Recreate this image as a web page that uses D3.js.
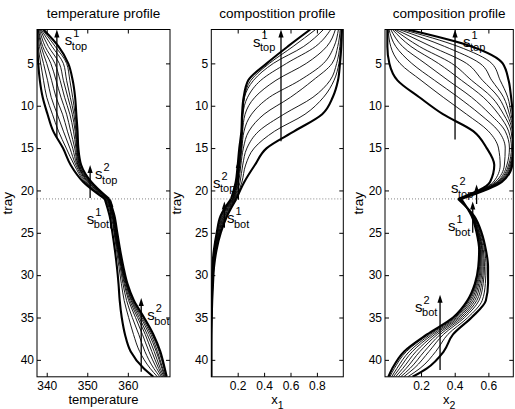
<!DOCTYPE html>
<meta charset="utf-8">
<style>
    body { margin: 0; background: #fff; }
    text { font-family: "Liberation Sans", Arial, Helvetica, sans-serif; fill: #000; }
</style>
<div id="my_dataviz"></div>
<script src="https://d3js.org/d3.v7.min.js"></script>
<script>

    var trays = [1, 3, 5, 7, 9, 11, 13, 15, 17, 19, 21, 23, 25, 27, 29, 31, 33, 35, 37, 39, 41, 42];
    var feedTray = 21;

    // temperature profiles, first and last are drawn thick
    var tempProfiles = [
        [337.6, 337.7, 337.9, 338.3, 339.0, 340.2, 341.6, 344.0, 345.9, 349.0, 354.3, 355.5, 356.2, 356.8, 357.3, 357.7, 358.0, 358.5, 359.3, 360.7, 363.9, 366.3],
        [337.7, 337.9, 338.5, 339.2, 340.0, 341.4, 342.9, 344.8, 346.8, 349.4, 354.5, 355.9, 356.6, 357.2, 357.8, 358.4, 359.1, 360.2, 361.4, 362.9, 365.5, 367.3],
        [337.8, 338.2, 339.2, 340.2, 341.1, 342.6, 344.1, 345.7, 347.2, 349.7, 354.6, 356.1, 356.7, 357.4, 358.1, 358.8, 359.7, 361.1, 362.7, 364.2, 366.4, 367.9],
        [337.9, 338.6, 340.0, 341.2, 342.3, 343.9, 345.1, 346.4, 347.5, 350.0, 354.8, 356.2, 356.8, 357.5, 358.3, 359.1, 360.2, 361.9, 363.6, 365.2, 367.1, 368.3],
        [338.0, 339.0, 341.0, 342.3, 343.5, 344.9, 345.9, 346.9, 347.7, 350.2, 354.9, 356.3, 356.9, 357.6, 358.4, 359.3, 360.5, 362.4, 364.3, 365.9, 367.6, 368.6],
        [338.2, 339.6, 342.0, 343.3, 344.4, 345.7, 346.6, 347.2, 347.8, 350.4, 355.0, 356.4, 357.0, 357.7, 358.5, 359.5, 360.8, 362.8, 364.8, 366.5, 368.0, 368.9],
        [338.4, 340.4, 343.1, 344.1, 345.2, 346.3, 347.0, 347.4, 348.0, 350.6, 355.1, 356.5, 357.1, 357.8, 358.6, 359.6, 361.0, 363.2, 365.3, 367.0, 368.4, 369.1],
        [338.6, 341.3, 344.1, 344.9, 345.8, 346.7, 347.2, 347.5, 348.1, 350.7, 355.2, 356.5, 357.1, 357.8, 358.7, 359.7, 361.2, 363.5, 365.7, 367.3, 368.6, 369.3],
        [338.9, 342.1, 344.9, 345.7, 346.4, 347.0, 347.4, 347.6, 348.3, 350.9, 355.3, 356.6, 357.2, 357.9, 358.7, 359.8, 361.4, 363.8, 366.0, 367.7, 368.9, 369.5],
        [339.2, 342.9, 345.3, 346.4, 347.0, 347.3, 347.6, 347.8, 348.5, 351.0, 355.4, 356.7, 357.4, 358.1, 358.9, 359.9, 361.5, 364.0, 366.3, 368.0, 369.1, 369.6]
    ];

    // x1 profiles
    var x1Profiles = [
        [0.75, 0.58, 0.42, 0.28, 0.245, 0.233, 0.228, 0.212, 0.2, 0.185, 0.15, 0.07, 0.041, 0.02, 0.008, 0.004, 0.002, 0.001, 0, 0, 0, 0],
        [0.79, 0.62, 0.44, 0.30, 0.25, 0.237, 0.231, 0.22, 0.205, 0.19, 0.16, 0.075, 0.044, 0.022, 0.009, 0.005, 0.0025, 0.001, 0, 0, 0, 0],
        [0.85, 0.70, 0.47, 0.32, 0.252, 0.238, 0.232, 0.223, 0.208, 0.192, 0.163, 0.081, 0.048, 0.024, 0.011, 0.006, 0.003, 0.0015, 0, 0, 0, 0],
        [0.905, 0.79, 0.57, 0.375, 0.275, 0.24, 0.234, 0.226, 0.211, 0.195, 0.166, 0.086, 0.051, 0.027, 0.012, 0.007, 0.0035, 0.0015, 0, 0, 0, 0],
        [0.94, 0.875, 0.72, 0.49, 0.33, 0.256, 0.237, 0.228, 0.214, 0.198, 0.17, 0.092, 0.055, 0.029, 0.014, 0.008, 0.004, 0.002, 0, 0, 0, 0],
        [0.963, 0.93, 0.85, 0.67, 0.44, 0.305, 0.248, 0.232, 0.218, 0.202, 0.174, 0.097, 0.058, 0.031, 0.015, 0.009, 0.0045, 0.002, 0, 0, 0, 0],
        [0.977, 0.958, 0.915, 0.77, 0.6, 0.40, 0.285, 0.243, 0.224, 0.208, 0.178, 0.103, 0.062, 0.033, 0.017, 0.01, 0.005, 0.002, 0.001, 0, 0, 0],
        [0.984, 0.974, 0.95, 0.9, 0.77, 0.55, 0.36, 0.27, 0.238, 0.218, 0.182, 0.108, 0.065, 0.036, 0.018, 0.011, 0.0055, 0.0025, 0.001, 0, 0, 0],
        [0.988, 0.981, 0.967, 0.93, 0.85, 0.71, 0.48, 0.325, 0.26, 0.232, 0.186, 0.114, 0.069, 0.038, 0.02, 0.012, 0.006, 0.003, 0.001, 0, 0, 0],
        [0.99, 0.985, 0.975, 0.96, 0.92, 0.84, 0.63, 0.42, 0.33, 0.25, 0.19, 0.12, 0.072, 0.04, 0.021, 0.013, 0.007, 0.003, 0.001, 0, 0, 0]
    ];

    // x2 profiles
    var x2Profiles = [
        [0.12, 0.5, 0.685, 0.72, 0.735, 0.745, 0.75, 0.75, 0.742, 0.68, 0.438, 0.5, 0.53, 0.545, 0.54, 0.52, 0.475, 0.39, 0.235, 0.1, 0.03, 0.006],
        [0.09, 0.42, 0.62, 0.67, 0.715, 0.735, 0.748, 0.749, 0.74, 0.675, 0.436, 0.501, 0.532, 0.547, 0.543, 0.525, 0.482, 0.397, 0.244, 0.114, 0.042, 0.015],
        [0.07, 0.34, 0.55, 0.62, 0.69, 0.725, 0.746, 0.748, 0.736, 0.67, 0.434, 0.502, 0.534, 0.55, 0.548, 0.53, 0.489, 0.404, 0.255, 0.131, 0.057, 0.025],
        [0.05, 0.26, 0.47, 0.565, 0.66, 0.71, 0.742, 0.746, 0.732, 0.665, 0.432, 0.503, 0.536, 0.553, 0.552, 0.536, 0.498, 0.413, 0.268, 0.149, 0.073, 0.036],
        [0.04, 0.19, 0.382, 0.5, 0.62, 0.69, 0.735, 0.743, 0.727, 0.66, 0.43, 0.504, 0.539, 0.557, 0.557, 0.543, 0.508, 0.423, 0.282, 0.171, 0.092, 0.049],
        [0.03, 0.14, 0.303, 0.44, 0.57, 0.66, 0.72, 0.737, 0.72, 0.655, 0.428, 0.506, 0.542, 0.561, 0.563, 0.551, 0.519, 0.434, 0.297, 0.194, 0.112, 0.064],
        [0.02, 0.09, 0.224, 0.36, 0.5, 0.61, 0.7, 0.725, 0.71, 0.65, 0.426, 0.508, 0.545, 0.565, 0.57, 0.56, 0.531, 0.446, 0.314, 0.22, 0.135, 0.079],
        [0.01, 0.05, 0.145, 0.28, 0.421, 0.55, 0.66, 0.7, 0.695, 0.64, 0.424, 0.509, 0.549, 0.57, 0.577, 0.569, 0.544, 0.459, 0.333, 0.248, 0.159, 0.097],
        [0.005, 0.02, 0.075, 0.2, 0.332, 0.47, 0.6, 0.66, 0.67, 0.63, 0.422, 0.512, 0.554, 0.577, 0.586, 0.582, 0.563, 0.478, 0.359, 0.288, 0.194, 0.121],
        [0.0, 0.0, 0.012, 0.06, 0.19, 0.33, 0.51, 0.59, 0.635, 0.61, 0.42, 0.515, 0.56, 0.585, 0.598, 0.598, 0.585, 0.5, 0.39, 0.335, 0.235, 0.15]
    ];

    // tick values and texts
    var trayTicks = [5, 10, 15, 20, 25, 30, 35, 40];
    var tempTicks = [340, 350, 360];
    var x1Ticks = [0.2, 0.4, 0.6, 0.8];
    var x2Ticks = [0.2, 0.4, 0.6];
    var titles = ["temperature profile", "compostition profile", "composition profile"];

    // arrows: [value, from tray, to tray, superscript, subscript]
    var tempArrows = [[342.5, 13.8, 1.0, "1", "top"], [350.7, 20.9, 17.0, "2", "top"], [355.8, 24.5, 21.0, "1", "bot"], [363.3, 41.4, 32.7, "2", "bot"]];
    var x1Arrows = [[0.528, 14.2, 1.0, "1", "top"], [0.205, 21.1, 16.4, "2", "top"], [0.099, 24.4, 21.3, "1", "bot"]];
    var x2Arrows = [[0.402, 14.0, 1.0, "1", "top"], [0.53, 21.6, 19.3, "2", "top"], [0.507, 25.0, 21.3, "1", "bot"], [0.313, 41.2, 32.3, "2", "bot"]];

    var width = 515, height = 409;

    var svg = d3.select("#my_dataviz")
        .append("svg")
        .attr("width", width)
        .attr("height", height);

    var y = d3.scaleLinear().domain([1, 42]).range([29.5, 376.8]);

    // layout of the three subplots
    var panels = [
        { profiles: tempProfiles, domain: [337.6, 370.4], left: 37, right: 170, ticks: tempTicks, fmt: d3.format("d"),
          xlabel: "temperature", xsub: null, ylabX: 11.5, arrows: tempArrows,
          offsets: [[8, 15.5], [5, 14], [-24, 25], [6, 22]] },
        { profiles: x1Profiles, domain: [0, 1], left: 211.3, right: 343.3, ticks: x1Ticks, fmt: d3.format(".1f"),
          xlabel: "x", xsub: "1", ylabX: 181, arrows: x1Arrows,
          offsets: [[-28, 17], [-25.4, 28], [2.6, 21.6]] },
        { profiles: x2Profiles, domain: [-0.014, 0.748], left: 385, right: 513.3, ticks: x2Ticks, fmt: d3.format(".1f"),
          xlabel: "x", xsub: "2", ylabX: 363, arrows: x2Arrows,
          offsets: [[8, 17], [-25.6, 8.6], [-24.7, 30], [-25, 17]] }
    ];

    panels.forEach(function (p, i) {
        var x = d3.scaleLinear().domain(p.domain).range([p.left, p.right]);
        var top = y.range()[0], bottom = y.range()[1];
        var g = svg.append("g");

        svg.append("clipPath")
            .attr("id", "clip" + i)
            .append("rect")
            .attr("x", p.left).attr("y", top)
            .attr("width", p.right - p.left).attr("height", bottom - top);

        // dotted line at the feed tray
        g.append("line")
            .attr("x1", p.left).attr("x2", p.right)
            .attr("y1", y(feedTray)).attr("y2", y(feedTray))
            .attr("stroke", "#666")
            .attr("stroke-width", 0.8)
            .attr("stroke-dasharray", "1,2");

        // profiles, split at the feed tray so the kink stays sharp
        var line = d3.line()
            .x(function (d) { return x(d[0]); })
            .y(function (d) { return y(d[1]); })
            .curve(d3.curveMonotoneY);

        var plot = g.append("g").attr("clip-path", "url(#clip" + i + ")");
        p.profiles.forEach(function (prof, k) {
            var pts = prof.map(function (v, j) { return [v, trays[j]]; });
            var parts = [pts.filter(function (d) { return d[1] <= feedTray; }),
                         pts.filter(function (d) { return d[1] >= feedTray; })];
            var thick = (k == 0 || k == p.profiles.length - 1);
            parts.forEach(function (seg) {
                plot.append("path")
                    .attr("d", line(seg))
                    .attr("fill", "none")
                    .attr("stroke", "#000")
                    .attr("stroke-width", thick ? 2.1 : 0.9);
            });
        });

        // arrows and their labels
        p.arrows.forEach(function (a, k) {
            var ax = x(a[0]), y0 = y(a[1]), y1 = y(a[2]);
            g.append("line")
                .attr("x1", ax).attr("x2", ax)
                .attr("y1", y0).attr("y2", y1 + 6)
                .attr("stroke", "#000")
                .attr("stroke-width", 1.3);
            g.append("path")
                .attr("d", "M" + ax + "," + y1 + "L" + (ax - 2.6) + "," + (y1 + 8) + "L" + (ax + 2.6) + "," + (y1 + 8) + "Z")
                .attr("fill", "#000");
            var sx = ax + p.offsets[k][0], sy = y1 + p.offsets[k][1];
            g.append("text").attr("x", sx).attr("y", sy).attr("font-size", 15).text("s");
            g.append("text").attr("x", sx + 8.5).attr("y", sy - 8).attr("font-size", 11).text(a[3]);
            g.append("text").attr("x", sx + 7).attr("y", sy + 4.5).attr("font-size", 11).text(a[4]);
        });

        // axes with inward ticks on all four sides
        function style(ax) {
            ax.attr("font-size", 12).attr("font-family", null);
            ax.select(".domain").remove();
            ax.selectAll("line").attr("stroke", "#000");
        }
        g.append("g")
            .attr("transform", "translate(" + p.left + ",0)")
            .call(d3.axisLeft(y).tickValues(trayTicks).tickSizeInner(-4).tickSizeOuter(0).tickPadding(3))
            .call(style);
        g.append("g")
            .attr("transform", "translate(" + p.right + ",0)")
            .call(d3.axisRight(y).tickValues(trayTicks).tickSizeInner(-4).tickSizeOuter(0).tickFormat(""))
            .call(style);
        g.append("g")
            .attr("transform", "translate(0," + bottom + ")")
            .call(d3.axisBottom(x).tickValues(p.ticks).tickFormat(p.fmt).tickSizeInner(-4).tickSizeOuter(0).tickPadding(4.5))
            .call(style);
        g.append("g")
            .attr("transform", "translate(0," + top + ")")
            .call(d3.axisTop(x).tickValues(p.ticks).tickSizeInner(-4).tickSizeOuter(0).tickFormat(""))
            .call(style);

        // box
        g.append("rect")
            .attr("x", p.left).attr("y", top)
            .attr("width", p.right - p.left).attr("height", bottom - top)
            .attr("fill", "none")
            .attr("stroke", "#000")
            .attr("stroke-width", 1);

        // title
        g.append("text")
            .attr("x", (p.left + p.right) / 2)
            .attr("y", 18)
            .attr("font-size", 13.5)
            .style("text-anchor", "middle")
            .text(titles[i]);

        // x label
        var xl = g.append("text")
            .attr("x", (p.left + p.right) / 2)
            .attr("y", 404)
            .attr("font-size", 13)
            .style("text-anchor", "middle")
            .text(p.xlabel);
        if (p.xsub) {
            xl.append("tspan").attr("dy", 4.5).attr("font-size", 10.5).text(p.xsub);
        }

        // y label
        g.append("text")
            .attr("transform", "translate(" + p.ylabX + "," + ((top + bottom) / 2) + ") rotate(-90)")
            .attr("font-size", 13.5)
            .style("text-anchor", "middle")
            .text("tray");
    });

</script>
